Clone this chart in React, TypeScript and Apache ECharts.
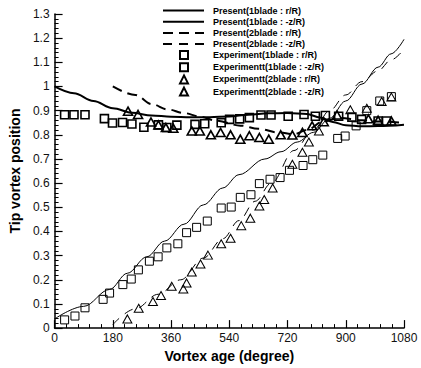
import React, { useEffect, useRef } from 'react';
import * as echarts from 'echarts';

// Vortex age (deg) / position pairs
const present1bladeR: [number, number][] = [
  [0, 1.0], [60, 0.972], [120, 0.94], [180, 0.91], [240, 0.891], [300, 0.88], [360, 0.875],
  [420, 0.873], [480, 0.873], [540, 0.876], [600, 0.883], [660, 0.889], [720, 0.89],
  [780, 0.886], [820, 0.872], [860, 0.853], [900, 0.84], [950, 0.835], [1000, 0.836], [1080, 0.842],
];
const present1bladeZ: [number, number][] = [
  [0, 0.038], [90, 0.09], [170, 0.16], [225, 0.227], [285, 0.295], [340, 0.36], [400, 0.43],
  [460, 0.51], [520, 0.58], [570, 0.635], [650, 0.7], [700, 0.73], [750, 0.77], [800, 0.81],
  [850, 0.868], [900, 0.94], [950, 1.01], [1000, 1.08], [1040, 1.135], [1080, 1.195],
];
const present2bladeR: [number, number][] = [
  [180, 1.0], [250, 0.965], [300, 0.927], [350, 0.905], [400, 0.89], [450, 0.875], [500, 0.858],
  [575, 0.838], [630, 0.825], [690, 0.81], [740, 0.803], [780, 0.82], [830, 0.855], [880, 0.87],
  [950, 0.86], [1000, 0.855], [1080, 0.85],
];
const present2bladeZ: [number, number][] = [
  [180, 0.015], [250, 0.08], [320, 0.14], [390, 0.2], [460, 0.29], [520, 0.37], [570, 0.445],
  [620, 0.525], [670, 0.6], [740, 0.735], [800, 0.82], [850, 0.9], [900, 0.965], [950, 1.02],
  [1000, 1.065], [1040, 1.11], [1080, 1.155],
];
const exp1bladeR: [number, number][] = [
  [31, 0.883], [60, 0.883], [94, 0.883], [154, 0.867], [179, 0.849], [210, 0.851], [239, 0.845],
  [276, 0.831], [321, 0.841], [347, 0.83], [378, 0.84], [434, 0.843], [464, 0.846], [515, 0.85],
  [541, 0.864], [572, 0.866], [602, 0.871], [638, 0.882], [669, 0.882], [722, 0.877], [771, 0.884],
  [806, 0.877], [837, 0.88], [878, 0.877], [919, 0.873], [949, 0.864], [1000, 0.857], [1026, 0.857],
];
const exp1bladeZ: [number, number][] = [
  [31, 0.034], [63, 0.05], [94, 0.084], [150, 0.119], [170, 0.145], [211, 0.18], [237, 0.203],
  [259, 0.241], [293, 0.277], [320, 0.295], [347, 0.332], [381, 0.349], [408, 0.395], [439, 0.417],
  [472, 0.443], [515, 0.497], [546, 0.501], [574, 0.541], [607, 0.552], [633, 0.598], [666, 0.616],
  [697, 0.623], [726, 0.653], [768, 0.673], [798, 0.697], [829, 0.716], [875, 0.785], [898, 0.795],
  [932, 0.837], [965, 0.9], [1005, 0.94], [1041, 0.958],
];
const exp2bladeR: [number, number][] = [
  [227, 0.898], [258, 0.884], [298, 0.853], [321, 0.841], [344, 0.83], [367, 0.827], [424, 0.816],
  [449, 0.816], [483, 0.8], [513, 0.81], [544, 0.8], [574, 0.782], [602, 0.796], [633, 0.789],
  [662, 0.782], [699, 0.8], [735, 0.799], [766, 0.81], [796, 0.837], [832, 0.854], [873, 0.882],
  [970, 0.866], [1000, 0.86], [1041, 0.857],
];
const exp2bladeZ: [number, number][] = [
  [225, 0.038], [260, 0.082], [304, 0.11], [329, 0.135], [362, 0.173], [398, 0.162], [408, 0.187],
  [424, 0.232], [451, 0.265], [474, 0.302], [515, 0.349], [544, 0.372], [577, 0.424], [605, 0.455],
  [633, 0.505], [648, 0.532], [674, 0.58], [735, 0.678], [766, 0.728], [786, 0.77], [817, 0.816],
  [914, 0.904], [965, 0.91], [1011, 0.938], [1041, 0.956],
];

const lineNames = [
  'Present(1blade : r/R)',
  'Present(1blade : -z/R)',
  'Present(2blade : r/R)',
  'Present(2blade : -z/R)',
];
const expNames = [
  'Experiment(1blade : r/R)',
  'Experimentt(1blade : -z/R)',
  'Experimentt(2blade : r/R)',
  'Experimentt(2blade : -z/R)',
];

const FONT = '"Liberation Sans", Arial, Helvetica, sans-serif';

export default function App() {
  const ref = useRef<HTMLDivElement>(null);
  useEffect(() => {
    document.body.style.margin = '0';
    const chart = echarts.init(ref.current!, null, { renderer: 'svg' });
    const lineSeries = (name: string, data: [number, number][], width: number, type: any) => ({
      name, type: 'line', data, showSymbol: false, symbol: 'none', smooth: 0.35,
      smoothMonotone: 'x',
      lineStyle: { color: '#000', width, type },
      itemStyle: { color: '#000' },
      z: 3,
    });
    const scatterSeries = (name: string, data: [number, number][], symbol: string, size: any, bw: number) => ({
      name, type: 'scatter', data, symbol, symbolSize: size,
      itemStyle: { color: 'rgba(255,255,255,0)', borderColor: '#000', borderWidth: bw, opacity: 1 },
      z: 4,
    });
    const legendText = (pad: number) => ({
      fontSize: 9, fontWeight: 'bold', fontFamily: FONT, color: '#000', padding: [0, 0, 0, pad], lineHeight: 9,
    });
    chart.setOption({
      animation: false,
      backgroundColor: '#fff',
      grid: { left: 52, right: 17, top: 14, bottom: 34 },
      legend: [
        {
          left: 162, top: 6, padding: 0, orient: 'vertical', itemWidth: 41, itemHeight: 8, itemGap: 2.2,
          textStyle: legendText(4),
          data: lineNames.map((n) => ({ name: n, itemStyle: { color: 'rgba(0,0,0,0)', borderWidth: 0, opacity: 0 } })),
        },
        {
          left: 179, top: 50, padding: 0, orient: 'vertical', itemWidth: 8, itemHeight: 8, itemGap: 2.2,
          textStyle: legendText(20),
          data: expNames,
        },
      ],
      xAxis: {
        type: 'value', min: 0, max: 1080, interval: 180,
        name: 'Vortex age (degree)', nameLocation: 'middle', nameGap: 15,
        nameTextStyle: { fontSize: 14, fontWeight: 'bold', fontFamily: FONT, color: '#000' },
        axisLine: { show: true, lineStyle: { color: '#000', width: 1.5 } },
        axisTick: { show: true, inside: true, length: 8, lineStyle: { color: '#000', width: 1.2 } },
        minorTick: { show: true, splitNumber: 5, length: 4, lineStyle: { color: '#000', width: 1 } },
        axisLabel: { fontSize: 12, fontFamily: FONT, color: '#111', margin: 4, formatter: (v: number) => String(v) },
        splitLine: { show: false },
      },
      yAxis: {
        type: 'value', min: 0, max: 1.3, interval: 0.1,
        name: 'Tip vortex position', nameLocation: 'middle', nameGap: 28,
        nameTextStyle: { fontSize: 14, fontWeight: 'bold', fontFamily: FONT, color: '#000' },
        axisLine: { show: true, lineStyle: { color: '#000', width: 1.5 } },
        axisTick: { show: true, inside: true, length: 8, lineStyle: { color: '#000', width: 1.2 } },
        minorTick: { show: true, splitNumber: 5, length: 4, lineStyle: { color: '#000', width: 1 } },
        axisLabel: { fontSize: 12, fontFamily: FONT, color: '#111', margin: 5, formatter: (v: number) => String(Math.round(v * 10) / 10) },
        splitLine: { show: false },
      },
      series: [
        lineSeries(lineNames[0], present1bladeR, 2, 'solid'),
        lineSeries(lineNames[1], present1bladeZ, 1, 'solid'),
        lineSeries(lineNames[2], present2bladeR, 2, [10, 6]),
        lineSeries(lineNames[3], present2bladeZ, 1, [9, 7]),
        scatterSeries(expNames[0], exp1bladeR, 'rect', 8, 1.6),
        scatterSeries(expNames[1], exp1bladeZ, 'rect', 8, 1),
        scatterSeries(expNames[2], exp2bladeR, 'triangle', [9, 8], 1.6),
        scatterSeries(expNames[3], exp2bladeZ, 'triangle', [9, 8], 1),
      ],
    });
    return () => chart.dispose();
  }, []);
  return <div ref={ref} style={{ width: 421, height: 368, position: 'absolute', left: 0, top: 0 }} />;
}
